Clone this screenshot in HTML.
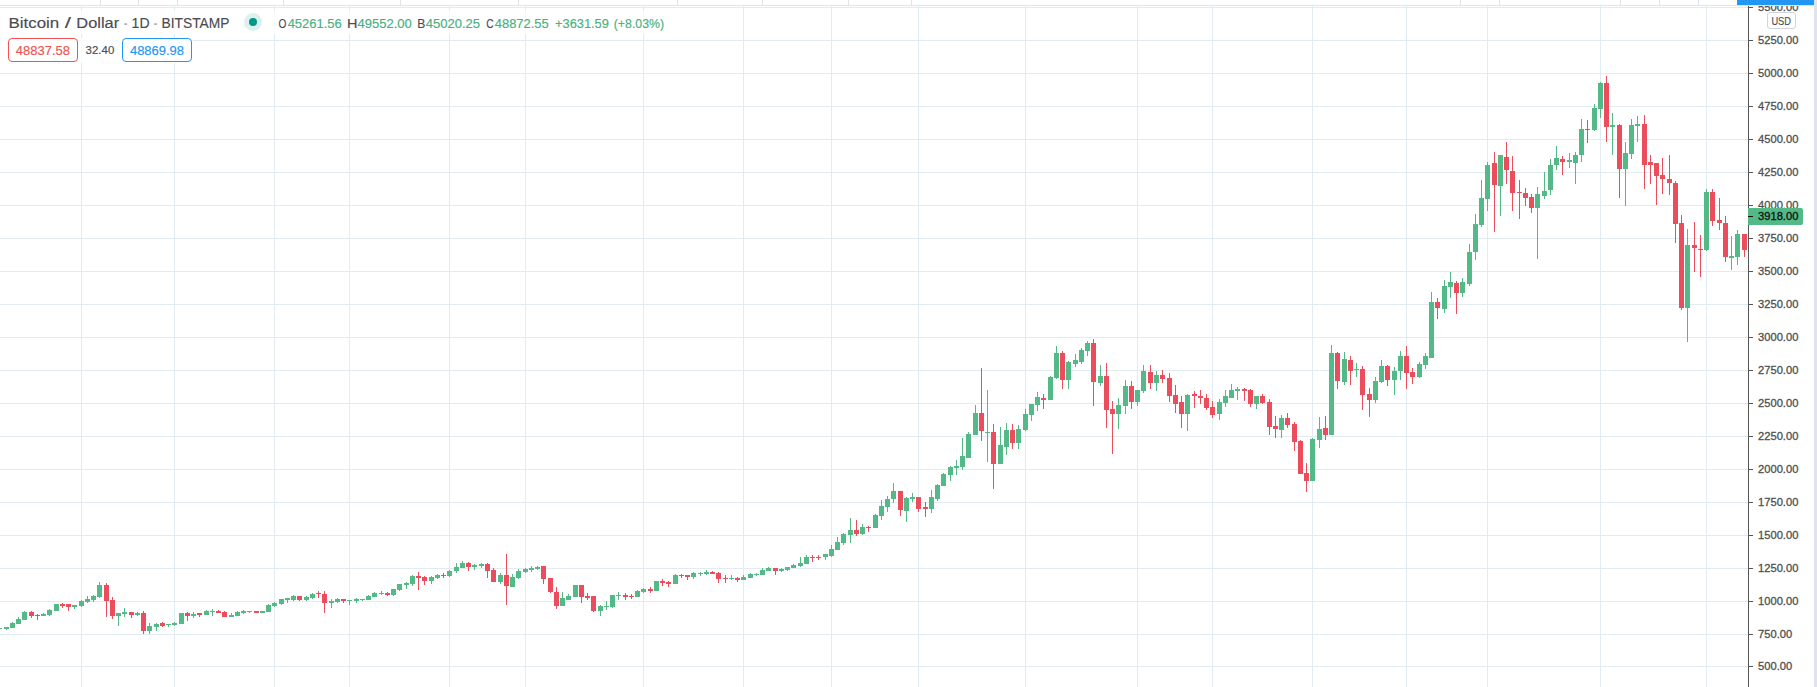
<!DOCTYPE html>
<html><head><meta charset="utf-8"><title>Bitcoin / Dollar</title>
<style>
html,body{margin:0;padding:0;background:#fff;}
body{width:1817px;height:687px;position:relative;overflow:hidden;font-family:"Liberation Sans",sans-serif;}
.t{position:absolute;white-space:pre;line-height:1;transform-origin:0 0;-webkit-text-stroke:0.15px;}
.bg{position:absolute;background:rgba(255,255,255,0.75);}
.box{position:absolute;top:38px;height:22px;border:1px solid;border-radius:4px;background:#fff;}
</style></head><body>
<svg width="1817" height="687" viewBox="0 0 1817 687" shape-rendering="crispEdges" style="position:absolute;left:0;top:0">
<g fill="#e1ecf2">
<rect x="0" y="7" width="1748" height="1"/>
<rect x="0" y="40" width="1748" height="1"/>
<rect x="0" y="73" width="1748" height="1"/>
<rect x="0" y="106" width="1748" height="1"/>
<rect x="0" y="139" width="1748" height="1"/>
<rect x="0" y="172" width="1748" height="1"/>
<rect x="0" y="205" width="1748" height="1"/>
<rect x="0" y="238" width="1748" height="1"/>
<rect x="0" y="271" width="1748" height="1"/>
<rect x="0" y="304" width="1748" height="1"/>
<rect x="0" y="337" width="1748" height="1"/>
<rect x="0" y="370" width="1748" height="1"/>
<rect x="0" y="403" width="1748" height="1"/>
<rect x="0" y="436" width="1748" height="1"/>
<rect x="0" y="469" width="1748" height="1"/>
<rect x="0" y="502" width="1748" height="1"/>
<rect x="0" y="535" width="1748" height="1"/>
<rect x="0" y="568" width="1748" height="1"/>
<rect x="0" y="601" width="1748" height="1"/>
<rect x="0" y="634" width="1748" height="1"/>
<rect x="0" y="666" width="1748" height="1"/>
<rect x="81" y="6" width="1" height="681"/>
<rect x="174" y="6" width="1" height="681"/>
<rect x="274" y="6" width="1" height="681"/>
<rect x="349" y="6" width="1" height="681"/>
<rect x="449" y="6" width="1" height="681"/>
<rect x="525" y="6" width="1" height="681"/>
<rect x="643" y="6" width="1" height="681"/>
<rect x="743" y="6" width="1" height="681"/>
<rect x="831" y="6" width="1" height="681"/>
<rect x="918" y="6" width="1" height="681"/>
<rect x="1025" y="6" width="1" height="681"/>
<rect x="1137" y="6" width="1" height="681"/>
<rect x="1212" y="6" width="1" height="681"/>
<rect x="1312" y="6" width="1" height="681"/>
<rect x="1406" y="6" width="1" height="681"/>
<rect x="1487" y="6" width="1" height="681"/>
<rect x="1600" y="6" width="1" height="681"/>
<rect x="1706" y="6" width="1" height="681"/>
</g>
<g fill="#53b987">
<rect x="-3" y="628" width="5" height="1"/>
<rect x="6" y="627" width="1" height="3"/>
<rect x="4" y="627" width="5" height="2"/>
<rect x="12" y="622" width="1" height="6"/>
<rect x="10" y="623" width="5" height="5"/>
<rect x="18" y="617" width="1" height="7"/>
<rect x="16" y="619" width="5" height="5"/>
<rect x="24" y="611" width="1" height="9"/>
<rect x="22" y="612" width="5" height="8"/>
<rect x="43" y="613" width="1" height="3"/>
<rect x="41" y="614" width="5" height="2"/>
<rect x="49" y="609" width="1" height="7"/>
<rect x="47" y="610" width="5" height="5"/>
<rect x="54" y="604" width="5" height="7"/>
<rect x="74" y="605" width="1" height="4"/>
<rect x="72" y="605" width="5" height="2"/>
<rect x="81" y="600" width="1" height="7"/>
<rect x="79" y="601" width="5" height="5"/>
<rect x="87" y="596" width="1" height="7"/>
<rect x="85" y="599" width="5" height="3"/>
<rect x="93" y="595" width="1" height="7"/>
<rect x="91" y="596" width="5" height="4"/>
<rect x="99" y="582" width="1" height="16"/>
<rect x="97" y="585" width="5" height="12"/>
<rect x="118" y="613" width="1" height="13"/>
<rect x="116" y="613" width="5" height="3"/>
<rect x="124" y="608" width="1" height="9"/>
<rect x="122" y="612" width="5" height="2"/>
<rect x="137" y="612" width="1" height="4"/>
<rect x="135" y="613" width="5" height="2"/>
<rect x="149" y="623" width="1" height="11"/>
<rect x="147" y="626" width="5" height="5"/>
<rect x="156" y="623" width="1" height="8"/>
<rect x="154" y="624" width="5" height="3"/>
<rect x="168" y="624" width="1" height="3"/>
<rect x="166" y="624" width="5" height="1"/>
<rect x="174" y="622" width="1" height="4"/>
<rect x="172" y="623" width="5" height="2"/>
<rect x="179" y="613" width="5" height="11"/>
<rect x="193" y="612" width="1" height="6"/>
<rect x="191" y="614" width="5" height="2"/>
<rect x="206" y="610" width="1" height="5"/>
<rect x="204" y="611" width="5" height="4"/>
<rect x="212" y="609" width="1" height="7"/>
<rect x="210" y="611" width="5" height="1"/>
<rect x="231" y="613" width="1" height="4"/>
<rect x="229" y="615" width="5" height="2"/>
<rect x="237" y="611" width="1" height="5"/>
<rect x="235" y="612" width="5" height="4"/>
<rect x="243" y="610" width="1" height="4"/>
<rect x="241" y="611" width="5" height="2"/>
<rect x="249" y="611" width="1" height="2"/>
<rect x="247" y="611" width="5" height="1"/>
<rect x="260" y="611" width="5" height="2"/>
<rect x="268" y="604" width="1" height="8"/>
<rect x="266" y="605" width="5" height="7"/>
<rect x="274" y="602" width="1" height="5"/>
<rect x="272" y="603" width="5" height="3"/>
<rect x="281" y="599" width="1" height="6"/>
<rect x="279" y="599" width="5" height="5"/>
<rect x="287" y="598" width="1" height="5"/>
<rect x="285" y="598" width="5" height="2"/>
<rect x="293" y="595" width="1" height="6"/>
<rect x="291" y="596" width="5" height="4"/>
<rect x="306" y="596" width="1" height="5"/>
<rect x="304" y="597" width="5" height="3"/>
<rect x="312" y="593" width="1" height="6"/>
<rect x="310" y="594" width="5" height="4"/>
<rect x="331" y="599" width="1" height="9"/>
<rect x="329" y="601" width="5" height="2"/>
<rect x="337" y="598" width="1" height="5"/>
<rect x="335" y="599" width="5" height="3"/>
<rect x="349" y="600" width="1" height="5"/>
<rect x="347" y="600" width="5" height="1"/>
<rect x="356" y="598" width="1" height="5"/>
<rect x="354" y="599" width="5" height="2"/>
<rect x="362" y="599" width="1" height="2"/>
<rect x="360" y="599" width="5" height="1"/>
<rect x="368" y="595" width="1" height="5"/>
<rect x="366" y="596" width="5" height="4"/>
<rect x="374" y="592" width="1" height="5"/>
<rect x="372" y="593" width="5" height="4"/>
<rect x="381" y="591" width="1" height="4"/>
<rect x="379" y="593" width="5" height="1"/>
<rect x="393" y="589" width="1" height="7"/>
<rect x="391" y="589" width="5" height="6"/>
<rect x="399" y="584" width="1" height="7"/>
<rect x="397" y="584" width="5" height="6"/>
<rect x="406" y="582" width="1" height="7"/>
<rect x="404" y="583" width="5" height="2"/>
<rect x="412" y="575" width="1" height="11"/>
<rect x="410" y="576" width="5" height="8"/>
<rect x="431" y="576" width="1" height="8"/>
<rect x="429" y="577" width="5" height="4"/>
<rect x="437" y="574" width="1" height="5"/>
<rect x="435" y="575" width="5" height="3"/>
<rect x="449" y="570" width="1" height="7"/>
<rect x="447" y="571" width="5" height="5"/>
<rect x="456" y="563" width="1" height="10"/>
<rect x="454" y="567" width="5" height="4"/>
<rect x="462" y="561" width="1" height="7"/>
<rect x="460" y="563" width="5" height="5"/>
<rect x="474" y="564" width="1" height="6"/>
<rect x="472" y="565" width="5" height="2"/>
<rect x="481" y="563" width="1" height="5"/>
<rect x="479" y="564" width="5" height="2"/>
<rect x="500" y="573" width="1" height="11"/>
<rect x="498" y="575" width="5" height="7"/>
<rect x="512" y="574" width="1" height="13"/>
<rect x="510" y="577" width="5" height="10"/>
<rect x="518" y="569" width="1" height="10"/>
<rect x="516" y="571" width="5" height="7"/>
<rect x="525" y="568" width="1" height="5"/>
<rect x="523" y="569" width="5" height="3"/>
<rect x="531" y="566" width="1" height="6"/>
<rect x="529" y="568" width="5" height="2"/>
<rect x="537" y="566" width="1" height="4"/>
<rect x="535" y="567" width="5" height="2"/>
<rect x="562" y="592" width="1" height="14"/>
<rect x="560" y="598" width="5" height="8"/>
<rect x="568" y="594" width="1" height="6"/>
<rect x="566" y="596" width="5" height="4"/>
<rect x="573" y="585" width="5" height="12"/>
<rect x="600" y="605" width="1" height="11"/>
<rect x="598" y="606" width="5" height="5"/>
<rect x="606" y="601" width="1" height="9"/>
<rect x="604" y="606" width="5" height="1"/>
<rect x="612" y="595" width="1" height="13"/>
<rect x="610" y="595" width="5" height="12"/>
<rect x="618" y="592" width="1" height="8"/>
<rect x="616" y="595" width="5" height="1"/>
<rect x="637" y="590" width="1" height="7"/>
<rect x="635" y="591" width="5" height="6"/>
<rect x="643" y="588" width="1" height="5"/>
<rect x="641" y="589" width="5" height="3"/>
<rect x="654" y="581" width="5" height="10"/>
<rect x="675" y="574" width="1" height="10"/>
<rect x="673" y="575" width="5" height="9"/>
<rect x="693" y="572" width="1" height="7"/>
<rect x="691" y="573" width="5" height="4"/>
<rect x="700" y="572" width="1" height="4"/>
<rect x="698" y="573" width="5" height="1"/>
<rect x="706" y="570" width="1" height="5"/>
<rect x="704" y="572" width="5" height="2"/>
<rect x="731" y="575" width="1" height="5"/>
<rect x="729" y="578" width="5" height="1"/>
<rect x="743" y="575" width="1" height="5"/>
<rect x="741" y="577" width="5" height="3"/>
<rect x="750" y="573" width="1" height="5"/>
<rect x="748" y="574" width="5" height="4"/>
<rect x="756" y="573" width="1" height="3"/>
<rect x="754" y="574" width="5" height="1"/>
<rect x="762" y="568" width="1" height="7"/>
<rect x="760" y="570" width="5" height="5"/>
<rect x="768" y="567" width="1" height="4"/>
<rect x="766" y="568" width="5" height="3"/>
<rect x="781" y="568" width="1" height="4"/>
<rect x="779" y="569" width="5" height="2"/>
<rect x="787" y="567" width="1" height="4"/>
<rect x="785" y="567" width="5" height="3"/>
<rect x="793" y="564" width="1" height="4"/>
<rect x="791" y="565" width="5" height="3"/>
<rect x="800" y="557" width="1" height="10"/>
<rect x="798" y="563" width="5" height="3"/>
<rect x="806" y="555" width="1" height="9"/>
<rect x="804" y="557" width="5" height="7"/>
<rect x="825" y="554" width="1" height="6"/>
<rect x="823" y="554" width="5" height="3"/>
<rect x="831" y="545" width="1" height="12"/>
<rect x="829" y="549" width="5" height="7"/>
<rect x="837" y="537" width="1" height="13"/>
<rect x="835" y="542" width="5" height="8"/>
<rect x="843" y="533" width="1" height="12"/>
<rect x="841" y="534" width="5" height="9"/>
<rect x="850" y="518" width="1" height="25"/>
<rect x="848" y="530" width="5" height="5"/>
<rect x="862" y="524" width="1" height="11"/>
<rect x="860" y="527" width="5" height="7"/>
<rect x="875" y="514" width="1" height="14"/>
<rect x="873" y="515" width="5" height="13"/>
<rect x="881" y="500" width="1" height="20"/>
<rect x="879" y="506" width="5" height="10"/>
<rect x="887" y="496" width="1" height="16"/>
<rect x="885" y="499" width="5" height="8"/>
<rect x="893" y="483" width="1" height="20"/>
<rect x="891" y="491" width="5" height="8"/>
<rect x="906" y="497" width="1" height="25"/>
<rect x="904" y="498" width="5" height="13"/>
<rect x="912" y="493" width="1" height="9"/>
<rect x="910" y="497" width="5" height="2"/>
<rect x="931" y="490" width="1" height="23"/>
<rect x="929" y="497" width="5" height="12"/>
<rect x="937" y="484" width="1" height="17"/>
<rect x="935" y="485" width="5" height="14"/>
<rect x="943" y="473" width="1" height="13"/>
<rect x="941" y="474" width="5" height="12"/>
<rect x="950" y="466" width="1" height="15"/>
<rect x="948" y="467" width="5" height="8"/>
<rect x="956" y="460" width="1" height="15"/>
<rect x="954" y="466" width="5" height="2"/>
<rect x="962" y="438" width="1" height="32"/>
<rect x="960" y="456" width="5" height="11"/>
<rect x="968" y="432" width="1" height="26"/>
<rect x="966" y="434" width="5" height="24"/>
<rect x="975" y="405" width="1" height="30"/>
<rect x="973" y="413" width="5" height="22"/>
<rect x="987" y="390" width="1" height="72"/>
<rect x="985" y="432" width="5" height="1"/>
<rect x="1000" y="427" width="1" height="37"/>
<rect x="998" y="445" width="5" height="19"/>
<rect x="1006" y="423" width="1" height="32"/>
<rect x="1004" y="430" width="5" height="17"/>
<rect x="1018" y="425" width="1" height="24"/>
<rect x="1016" y="429" width="5" height="14"/>
<rect x="1025" y="409" width="1" height="22"/>
<rect x="1023" y="414" width="5" height="16"/>
<rect x="1031" y="404" width="1" height="17"/>
<rect x="1029" y="404" width="5" height="11"/>
<rect x="1037" y="392" width="1" height="19"/>
<rect x="1035" y="397" width="5" height="8"/>
<rect x="1050" y="376" width="1" height="24"/>
<rect x="1048" y="377" width="5" height="23"/>
<rect x="1056" y="346" width="1" height="33"/>
<rect x="1054" y="353" width="5" height="25"/>
<rect x="1068" y="361" width="1" height="28"/>
<rect x="1066" y="362" width="5" height="18"/>
<rect x="1075" y="354" width="1" height="13"/>
<rect x="1073" y="360" width="5" height="4"/>
<rect x="1081" y="348" width="1" height="16"/>
<rect x="1079" y="350" width="5" height="12"/>
<rect x="1087" y="341" width="1" height="15"/>
<rect x="1085" y="343" width="5" height="8"/>
<rect x="1100" y="365" width="1" height="21"/>
<rect x="1098" y="376" width="5" height="7"/>
<rect x="1118" y="398" width="1" height="31"/>
<rect x="1116" y="405" width="5" height="9"/>
<rect x="1125" y="380" width="1" height="34"/>
<rect x="1123" y="386" width="5" height="20"/>
<rect x="1137" y="390" width="1" height="16"/>
<rect x="1135" y="390" width="5" height="12"/>
<rect x="1143" y="365" width="1" height="28"/>
<rect x="1141" y="371" width="5" height="20"/>
<rect x="1156" y="371" width="1" height="20"/>
<rect x="1154" y="375" width="5" height="8"/>
<rect x="1187" y="394" width="1" height="37"/>
<rect x="1185" y="395" width="5" height="19"/>
<rect x="1219" y="399" width="1" height="21"/>
<rect x="1217" y="402" width="5" height="12"/>
<rect x="1225" y="390" width="1" height="17"/>
<rect x="1223" y="396" width="5" height="7"/>
<rect x="1231" y="384" width="1" height="14"/>
<rect x="1229" y="390" width="5" height="8"/>
<rect x="1237" y="387" width="1" height="13"/>
<rect x="1235" y="389" width="5" height="2"/>
<rect x="1256" y="396" width="1" height="13"/>
<rect x="1254" y="396" width="5" height="8"/>
<rect x="1281" y="415" width="1" height="23"/>
<rect x="1279" y="418" width="5" height="12"/>
<rect x="1312" y="438" width="1" height="43"/>
<rect x="1310" y="439" width="5" height="42"/>
<rect x="1319" y="417" width="1" height="31"/>
<rect x="1317" y="429" width="5" height="11"/>
<rect x="1331" y="345" width="1" height="90"/>
<rect x="1329" y="353" width="5" height="82"/>
<rect x="1344" y="352" width="1" height="33"/>
<rect x="1342" y="359" width="5" height="23"/>
<rect x="1356" y="363" width="1" height="14"/>
<rect x="1354" y="369" width="5" height="1"/>
<rect x="1375" y="377" width="1" height="26"/>
<rect x="1373" y="381" width="5" height="19"/>
<rect x="1381" y="360" width="1" height="23"/>
<rect x="1379" y="366" width="5" height="16"/>
<rect x="1394" y="367" width="1" height="28"/>
<rect x="1392" y="371" width="5" height="9"/>
<rect x="1400" y="351" width="1" height="29"/>
<rect x="1398" y="356" width="5" height="15"/>
<rect x="1419" y="362" width="1" height="16"/>
<rect x="1417" y="364" width="5" height="13"/>
<rect x="1425" y="353" width="1" height="16"/>
<rect x="1423" y="356" width="5" height="9"/>
<rect x="1431" y="292" width="1" height="66"/>
<rect x="1429" y="302" width="5" height="56"/>
<rect x="1444" y="280" width="1" height="33"/>
<rect x="1442" y="286" width="5" height="23"/>
<rect x="1450" y="272" width="1" height="26"/>
<rect x="1448" y="282" width="5" height="5"/>
<rect x="1462" y="278" width="1" height="19"/>
<rect x="1460" y="282" width="5" height="11"/>
<rect x="1469" y="244" width="1" height="42"/>
<rect x="1467" y="252" width="5" height="32"/>
<rect x="1475" y="214" width="1" height="46"/>
<rect x="1473" y="224" width="5" height="28"/>
<rect x="1481" y="180" width="1" height="47"/>
<rect x="1479" y="198" width="5" height="27"/>
<rect x="1487" y="162" width="1" height="49"/>
<rect x="1485" y="165" width="5" height="34"/>
<rect x="1500" y="155" width="1" height="61"/>
<rect x="1498" y="155" width="5" height="31"/>
<rect x="1537" y="187" width="1" height="72"/>
<rect x="1535" y="194" width="5" height="14"/>
<rect x="1544" y="172" width="1" height="27"/>
<rect x="1542" y="191" width="5" height="5"/>
<rect x="1550" y="159" width="1" height="36"/>
<rect x="1548" y="165" width="5" height="25"/>
<rect x="1556" y="146" width="1" height="24"/>
<rect x="1554" y="158" width="5" height="7"/>
<rect x="1569" y="153" width="1" height="15"/>
<rect x="1567" y="160" width="5" height="2"/>
<rect x="1575" y="152" width="1" height="32"/>
<rect x="1573" y="155" width="5" height="8"/>
<rect x="1581" y="119" width="1" height="43"/>
<rect x="1579" y="129" width="5" height="26"/>
<rect x="1594" y="104" width="1" height="27"/>
<rect x="1592" y="108" width="5" height="22"/>
<rect x="1600" y="82" width="1" height="36"/>
<rect x="1598" y="83" width="5" height="26"/>
<rect x="1612" y="113" width="1" height="42"/>
<rect x="1610" y="125" width="5" height="2"/>
<rect x="1625" y="142" width="1" height="64"/>
<rect x="1623" y="153" width="5" height="16"/>
<rect x="1631" y="119" width="1" height="40"/>
<rect x="1629" y="125" width="5" height="29"/>
<rect x="1637" y="116" width="1" height="26"/>
<rect x="1635" y="124" width="5" height="2"/>
<rect x="1687" y="229" width="1" height="113"/>
<rect x="1685" y="245" width="5" height="63"/>
<rect x="1706" y="189" width="1" height="62"/>
<rect x="1704" y="192" width="5" height="58"/>
<rect x="1731" y="236" width="1" height="34"/>
<rect x="1729" y="256" width="5" height="2"/>
<rect x="1737" y="230" width="1" height="35"/>
<rect x="1735" y="234" width="5" height="23"/>
</g>
<g fill="#eb4d5c">
<rect x="31" y="611" width="1" height="7"/>
<rect x="29" y="612" width="5" height="4"/>
<rect x="37" y="614" width="1" height="6"/>
<rect x="35" y="615" width="5" height="1"/>
<rect x="62" y="603" width="1" height="5"/>
<rect x="60" y="604" width="5" height="2"/>
<rect x="68" y="604" width="1" height="7"/>
<rect x="66" y="604" width="5" height="3"/>
<rect x="106" y="583" width="1" height="34"/>
<rect x="104" y="585" width="5" height="16"/>
<rect x="112" y="597" width="1" height="22"/>
<rect x="110" y="600" width="5" height="16"/>
<rect x="131" y="612" width="1" height="6"/>
<rect x="129" y="612" width="5" height="3"/>
<rect x="143" y="611" width="1" height="23"/>
<rect x="141" y="613" width="5" height="18"/>
<rect x="162" y="622" width="1" height="5"/>
<rect x="160" y="623" width="5" height="3"/>
<rect x="187" y="612" width="1" height="9"/>
<rect x="185" y="613" width="5" height="3"/>
<rect x="199" y="613" width="1" height="4"/>
<rect x="197" y="613" width="5" height="2"/>
<rect x="218" y="610" width="1" height="3"/>
<rect x="216" y="611" width="5" height="2"/>
<rect x="224" y="611" width="1" height="6"/>
<rect x="222" y="612" width="5" height="5"/>
<rect x="254" y="611" width="5" height="2"/>
<rect x="299" y="596" width="1" height="5"/>
<rect x="297" y="596" width="5" height="4"/>
<rect x="318" y="591" width="1" height="7"/>
<rect x="316" y="593" width="5" height="1"/>
<rect x="324" y="591" width="1" height="22"/>
<rect x="322" y="594" width="5" height="9"/>
<rect x="343" y="599" width="1" height="4"/>
<rect x="341" y="599" width="5" height="2"/>
<rect x="387" y="592" width="1" height="4"/>
<rect x="385" y="593" width="5" height="2"/>
<rect x="418" y="572" width="1" height="18"/>
<rect x="416" y="576" width="5" height="2"/>
<rect x="424" y="576" width="1" height="9"/>
<rect x="422" y="577" width="5" height="4"/>
<rect x="443" y="573" width="1" height="5"/>
<rect x="441" y="575" width="5" height="1"/>
<rect x="468" y="562" width="1" height="9"/>
<rect x="466" y="563" width="5" height="4"/>
<rect x="487" y="563" width="1" height="15"/>
<rect x="485" y="564" width="5" height="7"/>
<rect x="493" y="568" width="1" height="14"/>
<rect x="491" y="570" width="5" height="12"/>
<rect x="506" y="554" width="1" height="51"/>
<rect x="504" y="575" width="5" height="11"/>
<rect x="543" y="566" width="1" height="18"/>
<rect x="541" y="566" width="5" height="13"/>
<rect x="550" y="578" width="1" height="15"/>
<rect x="548" y="578" width="5" height="14"/>
<rect x="556" y="587" width="1" height="22"/>
<rect x="554" y="592" width="5" height="14"/>
<rect x="581" y="585" width="1" height="18"/>
<rect x="579" y="585" width="5" height="12"/>
<rect x="587" y="593" width="1" height="7"/>
<rect x="585" y="596" width="5" height="2"/>
<rect x="593" y="596" width="1" height="16"/>
<rect x="591" y="596" width="5" height="15"/>
<rect x="625" y="593" width="1" height="7"/>
<rect x="623" y="595" width="5" height="2"/>
<rect x="631" y="594" width="1" height="5"/>
<rect x="629" y="596" width="5" height="1"/>
<rect x="650" y="587" width="1" height="6"/>
<rect x="648" y="589" width="5" height="2"/>
<rect x="662" y="579" width="1" height="7"/>
<rect x="660" y="581" width="5" height="2"/>
<rect x="668" y="581" width="1" height="6"/>
<rect x="666" y="582" width="5" height="2"/>
<rect x="681" y="574" width="1" height="4"/>
<rect x="679" y="575" width="5" height="1"/>
<rect x="687" y="575" width="1" height="5"/>
<rect x="685" y="575" width="5" height="2"/>
<rect x="712" y="571" width="1" height="3"/>
<rect x="710" y="572" width="5" height="2"/>
<rect x="718" y="572" width="1" height="11"/>
<rect x="716" y="573" width="5" height="6"/>
<rect x="725" y="575" width="1" height="8"/>
<rect x="723" y="578" width="5" height="1"/>
<rect x="737" y="577" width="1" height="5"/>
<rect x="735" y="578" width="5" height="2"/>
<rect x="775" y="568" width="1" height="7"/>
<rect x="773" y="568" width="5" height="3"/>
<rect x="812" y="555" width="1" height="7"/>
<rect x="810" y="557" width="5" height="1"/>
<rect x="818" y="555" width="1" height="5"/>
<rect x="816" y="557" width="5" height="1"/>
<rect x="856" y="520" width="1" height="16"/>
<rect x="854" y="530" width="5" height="4"/>
<rect x="868" y="526" width="1" height="6"/>
<rect x="866" y="527" width="5" height="1"/>
<rect x="900" y="491" width="1" height="25"/>
<rect x="898" y="491" width="5" height="19"/>
<rect x="918" y="497" width="1" height="15"/>
<rect x="916" y="497" width="5" height="12"/>
<rect x="925" y="502" width="1" height="15"/>
<rect x="923" y="507" width="5" height="2"/>
<rect x="981" y="368" width="1" height="73"/>
<rect x="979" y="413" width="5" height="18"/>
<rect x="993" y="424" width="1" height="65"/>
<rect x="991" y="432" width="5" height="32"/>
<rect x="1012" y="424" width="1" height="25"/>
<rect x="1010" y="430" width="5" height="13"/>
<rect x="1043" y="394" width="1" height="15"/>
<rect x="1041" y="398" width="5" height="2"/>
<rect x="1062" y="351" width="1" height="38"/>
<rect x="1060" y="353" width="5" height="27"/>
<rect x="1093" y="339" width="1" height="67"/>
<rect x="1091" y="343" width="5" height="39"/>
<rect x="1106" y="363" width="1" height="65"/>
<rect x="1104" y="376" width="5" height="34"/>
<rect x="1112" y="401" width="1" height="53"/>
<rect x="1110" y="409" width="5" height="5"/>
<rect x="1131" y="381" width="1" height="28"/>
<rect x="1129" y="386" width="5" height="16"/>
<rect x="1150" y="365" width="1" height="24"/>
<rect x="1148" y="372" width="5" height="11"/>
<rect x="1162" y="370" width="1" height="13"/>
<rect x="1160" y="375" width="5" height="4"/>
<rect x="1169" y="373" width="1" height="29"/>
<rect x="1167" y="378" width="5" height="18"/>
<rect x="1175" y="385" width="1" height="28"/>
<rect x="1173" y="395" width="5" height="9"/>
<rect x="1181" y="396" width="1" height="32"/>
<rect x="1179" y="402" width="5" height="12"/>
<rect x="1194" y="391" width="1" height="17"/>
<rect x="1192" y="394" width="5" height="2"/>
<rect x="1200" y="390" width="1" height="14"/>
<rect x="1198" y="396" width="5" height="2"/>
<rect x="1206" y="394" width="1" height="16"/>
<rect x="1204" y="398" width="5" height="10"/>
<rect x="1212" y="401" width="1" height="17"/>
<rect x="1210" y="407" width="5" height="8"/>
<rect x="1244" y="388" width="1" height="13"/>
<rect x="1242" y="389" width="5" height="2"/>
<rect x="1250" y="389" width="1" height="18"/>
<rect x="1248" y="390" width="5" height="14"/>
<rect x="1262" y="394" width="1" height="10"/>
<rect x="1260" y="396" width="5" height="7"/>
<rect x="1269" y="399" width="1" height="36"/>
<rect x="1267" y="402" width="5" height="25"/>
<rect x="1275" y="416" width="1" height="22"/>
<rect x="1273" y="426" width="5" height="3"/>
<rect x="1287" y="413" width="1" height="15"/>
<rect x="1285" y="418" width="5" height="7"/>
<rect x="1294" y="422" width="1" height="29"/>
<rect x="1292" y="424" width="5" height="18"/>
<rect x="1300" y="440" width="1" height="34"/>
<rect x="1298" y="441" width="5" height="33"/>
<rect x="1306" y="463" width="1" height="29"/>
<rect x="1304" y="473" width="5" height="8"/>
<rect x="1325" y="416" width="1" height="24"/>
<rect x="1323" y="428" width="5" height="7"/>
<rect x="1337" y="352" width="1" height="37"/>
<rect x="1335" y="353" width="5" height="28"/>
<rect x="1350" y="356" width="1" height="29"/>
<rect x="1348" y="360" width="5" height="11"/>
<rect x="1362" y="366" width="1" height="44"/>
<rect x="1360" y="369" width="5" height="26"/>
<rect x="1369" y="388" width="1" height="29"/>
<rect x="1367" y="394" width="5" height="6"/>
<rect x="1387" y="365" width="1" height="21"/>
<rect x="1385" y="366" width="5" height="14"/>
<rect x="1406" y="346" width="1" height="43"/>
<rect x="1404" y="356" width="5" height="17"/>
<rect x="1412" y="368" width="1" height="16"/>
<rect x="1410" y="372" width="5" height="5"/>
<rect x="1437" y="298" width="1" height="21"/>
<rect x="1435" y="302" width="5" height="6"/>
<rect x="1456" y="281" width="1" height="33"/>
<rect x="1454" y="283" width="5" height="10"/>
<rect x="1494" y="152" width="1" height="80"/>
<rect x="1492" y="163" width="5" height="22"/>
<rect x="1506" y="142" width="1" height="42"/>
<rect x="1504" y="157" width="5" height="13"/>
<rect x="1512" y="156" width="1" height="55"/>
<rect x="1510" y="171" width="5" height="22"/>
<rect x="1519" y="180" width="1" height="39"/>
<rect x="1517" y="192" width="5" height="1"/>
<rect x="1525" y="188" width="1" height="18"/>
<rect x="1523" y="193" width="5" height="5"/>
<rect x="1531" y="194" width="1" height="19"/>
<rect x="1529" y="197" width="5" height="11"/>
<rect x="1562" y="156" width="1" height="19"/>
<rect x="1560" y="159" width="5" height="3"/>
<rect x="1587" y="120" width="1" height="23"/>
<rect x="1585" y="129" width="5" height="1"/>
<rect x="1606" y="76" width="1" height="66"/>
<rect x="1604" y="83" width="5" height="44"/>
<rect x="1619" y="124" width="1" height="74"/>
<rect x="1617" y="125" width="5" height="44"/>
<rect x="1644" y="115" width="1" height="74"/>
<rect x="1642" y="124" width="5" height="41"/>
<rect x="1650" y="155" width="1" height="29"/>
<rect x="1648" y="162" width="5" height="3"/>
<rect x="1656" y="163" width="1" height="42"/>
<rect x="1654" y="163" width="5" height="13"/>
<rect x="1662" y="158" width="1" height="36"/>
<rect x="1660" y="175" width="5" height="4"/>
<rect x="1669" y="155" width="1" height="40"/>
<rect x="1667" y="179" width="5" height="4"/>
<rect x="1675" y="181" width="1" height="62"/>
<rect x="1673" y="183" width="5" height="41"/>
<rect x="1681" y="215" width="1" height="95"/>
<rect x="1679" y="223" width="5" height="85"/>
<rect x="1694" y="222" width="1" height="50"/>
<rect x="1692" y="245" width="5" height="3"/>
<rect x="1700" y="235" width="1" height="42"/>
<rect x="1698" y="249" width="5" height="1"/>
<rect x="1712" y="189" width="1" height="37"/>
<rect x="1710" y="192" width="5" height="29"/>
<rect x="1719" y="198" width="1" height="32"/>
<rect x="1717" y="220" width="5" height="3"/>
<rect x="1725" y="216" width="1" height="46"/>
<rect x="1723" y="223" width="5" height="34"/>
<rect x="1744" y="234" width="1" height="23"/>
<rect x="1742" y="234" width="5" height="16"/>
</g>
<g fill="#555">
<rect x="1748" y="6" width="1" height="681"/>
<rect x="1749" y="7" width="4" height="1"/>
<rect x="1749" y="40" width="4" height="1"/>
<rect x="1749" y="73" width="4" height="1"/>
<rect x="1749" y="106" width="4" height="1"/>
<rect x="1749" y="139" width="4" height="1"/>
<rect x="1749" y="172" width="4" height="1"/>
<rect x="1749" y="205" width="4" height="1"/>
<rect x="1749" y="238" width="4" height="1"/>
<rect x="1749" y="271" width="4" height="1"/>
<rect x="1749" y="304" width="4" height="1"/>
<rect x="1749" y="337" width="4" height="1"/>
<rect x="1749" y="370" width="4" height="1"/>
<rect x="1749" y="403" width="4" height="1"/>
<rect x="1749" y="436" width="4" height="1"/>
<rect x="1749" y="469" width="4" height="1"/>
<rect x="1749" y="502" width="4" height="1"/>
<rect x="1749" y="535" width="4" height="1"/>
<rect x="1749" y="568" width="4" height="1"/>
<rect x="1749" y="601" width="4" height="1"/>
<rect x="1749" y="634" width="4" height="1"/>
<rect x="1749" y="666" width="4" height="1"/>
</g>
<rect x="1814" y="0" width="3" height="687" fill="#e0e3eb"/>
</svg>
<div class="bg" style="left:0;top:11px;width:672px;height:23px"></div>
<div class="bg" style="left:0;top:38px;width:193px;height:25px"></div>
<div style="position:absolute;left:244px;top:13px;width:18px;height:18px;border-radius:50%;background:#dcf0ed"></div>
<div style="position:absolute;left:249px;top:18px;width:8px;height:8px;border-radius:50%;background:#009688"></div>
<div class="box" style="left:8px;width:68px;border-color:#f05350"></div>
<div class="box" style="left:122px;width:68px;border-color:#2196f3"></div>
<div style="position:absolute;left:1767px;top:12px;width:27px;height:15px;border:1px solid #d1d4dc;border-radius:3px;background:#fff"></div>
<div style="position:absolute;left:1748px;top:208px;width:55px;height:17px;background:#53b987;border-radius:0 2px 2px 0;z-index:2"></div>
<div style="position:absolute;left:1748px;top:216px;width:5px;height:1px;background:#111;z-index:3"></div>
<div class="t" style="left:8px;top:15px;font-size:15.3px;color:#4b4b52;font-weight:normal;transform:translateX(0.42px) scaleX(1.1063);">Bitcoin</div>
<div class="t" style="left:64px;top:15px;font-size:15.3px;color:#4b4b52;font-weight:normal;transform:translateX(0.80px) scaleX(1.4588);">/</div>
<div class="t" style="left:76px;top:15px;font-size:15.3px;color:#4b4b52;font-weight:normal;transform:translateX(0.36px) scaleX(1.0701);">Dollar</div>
<div class="t" style="left:121px;top:15px;font-size:15.3px;color:#a9acb6;font-weight:normal;transform:translateX(0.40px) scaleX(1.6000);">·</div>
<div class="t" style="left:131px;top:15px;font-size:15.3px;color:#4b4b52;font-weight:normal;transform:translateX(0.58px) scaleX(0.9167);">1D</div>
<div class="t" style="left:151px;top:15px;font-size:15.3px;color:#a9acb6;font-weight:normal;transform:translateX(0.18px) scaleX(1.6667);">·</div>
<div class="t" style="left:161px;top:15px;font-size:15.3px;color:#4b4b52;font-weight:normal;transform:translateX(0.57px) scaleX(0.9010);">BITSTAMP</div>
<div class="t" style="left:278px;top:18px;font-size:12.2px;color:#4b4b52;font-weight:normal;transform:translateX(0.38px) scaleX(0.8353);">O</div>
<div class="t" style="left:287px;top:18px;font-size:12.2px;color:#47b17f;font-weight:normal;transform:translateX(0.63px) scaleX(1.0647);">45261.56</div>
<div class="t" style="left:347px;top:18px;font-size:12.2px;color:#4b4b52;font-weight:normal;transform:translateX(0.11px) scaleX(1.1857);">H</div>
<div class="t" style="left:357px;top:18px;font-size:12.2px;color:#47b17f;font-weight:normal;transform:translateX(0.53px) scaleX(1.0687);">49552.00</div>
<div class="t" style="left:417px;top:18px;font-size:12.2px;color:#4b4b52;font-weight:normal;transform:translateX(0.22px) scaleX(0.9846);">B</div>
<div class="t" style="left:425px;top:18px;font-size:12.2px;color:#47b17f;font-weight:normal;transform:translateX(0.73px) scaleX(1.0687);">45020.25</div>
<div class="t" style="left:486px;top:18px;font-size:12.2px;color:#4b4b52;font-weight:normal;transform:translateX(0.28px) scaleX(0.8387);">C</div>
<div class="t" style="left:494px;top:18px;font-size:12.2px;color:#47b17f;font-weight:normal;transform:translateX(0.73px) scaleX(1.0627);">48872.55</div>
<div class="t" style="left:555px;top:18px;font-size:12.2px;color:#47b17f;font-weight:normal;transform:translateX(0.07px) scaleX(1.0507);">+3631.59</div>
<div class="t" style="left:613px;top:18px;font-size:12.2px;color:#47b17f;font-weight:normal;transform:translateX(0.74px) scaleX(1.0103);">(+8.03%)</div>
<div class="t" style="left:15px;top:45px;font-size:12.2px;color:#f05350;font-weight:normal;transform:translateX(0.73px) scaleX(1.0687);">48837.58</div>
<div class="t" style="left:85px;top:45px;font-size:11.2px;color:#4b4b52;font-weight:normal;transform:translateX(0.59px) scaleX(1.0239);">32.40</div>
<div class="t" style="left:129px;top:45px;font-size:12.2px;color:#2196f3;font-weight:normal;transform:translateX(0.93px) scaleX(1.0627);">48869.98</div>
<div class="t" style="left:1771px;top:16px;font-size:11.2px;color:#4b4b52;font-weight:normal;transform:translateX(0.38px) scaleX(0.8267);">USD</div>
<div class="t" style="left:1758px;top:2px;font-size:11px;color:#505050;-webkit-text-stroke:0.3px;transform:scaleX(1.015)">5500.00</div>
<div class="t" style="left:1758px;top:35px;font-size:11px;color:#505050;-webkit-text-stroke:0.3px;transform:scaleX(1.015)">5250.00</div>
<div class="t" style="left:1758px;top:68px;font-size:11px;color:#505050;-webkit-text-stroke:0.3px;transform:scaleX(1.015)">5000.00</div>
<div class="t" style="left:1758px;top:101px;font-size:11px;color:#505050;-webkit-text-stroke:0.3px;transform:scaleX(1.015)">4750.00</div>
<div class="t" style="left:1758px;top:134px;font-size:11px;color:#505050;-webkit-text-stroke:0.3px;transform:scaleX(1.015)">4500.00</div>
<div class="t" style="left:1758px;top:167px;font-size:11px;color:#505050;-webkit-text-stroke:0.3px;transform:scaleX(1.015)">4250.00</div>
<div class="t" style="left:1758px;top:200px;font-size:11px;color:#505050;-webkit-text-stroke:0.3px;transform:scaleX(1.015)">4000.00</div>
<div class="t" style="left:1758px;top:233px;font-size:11px;color:#505050;-webkit-text-stroke:0.3px;transform:scaleX(1.015)">3750.00</div>
<div class="t" style="left:1758px;top:266px;font-size:11px;color:#505050;-webkit-text-stroke:0.3px;transform:scaleX(1.015)">3500.00</div>
<div class="t" style="left:1758px;top:299px;font-size:11px;color:#505050;-webkit-text-stroke:0.3px;transform:scaleX(1.015)">3250.00</div>
<div class="t" style="left:1758px;top:332px;font-size:11px;color:#505050;-webkit-text-stroke:0.3px;transform:scaleX(1.015)">3000.00</div>
<div class="t" style="left:1758px;top:365px;font-size:11px;color:#505050;-webkit-text-stroke:0.3px;transform:scaleX(1.015)">2750.00</div>
<div class="t" style="left:1758px;top:398px;font-size:11px;color:#505050;-webkit-text-stroke:0.3px;transform:scaleX(1.015)">2500.00</div>
<div class="t" style="left:1758px;top:431px;font-size:11px;color:#505050;-webkit-text-stroke:0.3px;transform:scaleX(1.015)">2250.00</div>
<div class="t" style="left:1758px;top:464px;font-size:11px;color:#505050;-webkit-text-stroke:0.3px;transform:scaleX(1.015)">2000.00</div>
<div class="t" style="left:1758px;top:497px;font-size:11px;color:#505050;-webkit-text-stroke:0.3px;transform:scaleX(1.015)">1750.00</div>
<div class="t" style="left:1758px;top:530px;font-size:11px;color:#505050;-webkit-text-stroke:0.3px;transform:scaleX(1.015)">1500.00</div>
<div class="t" style="left:1758px;top:563px;font-size:11px;color:#505050;-webkit-text-stroke:0.3px;transform:scaleX(1.015)">1250.00</div>
<div class="t" style="left:1758px;top:596px;font-size:11px;color:#505050;-webkit-text-stroke:0.3px;transform:scaleX(1.015)">1000.00</div>
<div class="t" style="left:1758px;top:629px;font-size:11px;color:#505050;-webkit-text-stroke:0.3px;transform:scaleX(1.015)">750.00</div>
<div class="t" style="left:1758px;top:661px;font-size:11px;color:#505050;-webkit-text-stroke:0.3px;transform:scaleX(1.015)">500.00</div>
<div class="t" style="left:1758px;top:211px;font-size:11px;color:#111;-webkit-text-stroke:0.3px;z-index:3;transform:scaleX(1.015)">3918.00</div>
<svg width="1817" height="6" viewBox="0 0 1817 6" shape-rendering="crispEdges" style="position:absolute;left:0;top:0;z-index:5">
<rect x="0" y="0" width="1814" height="6" fill="#fff"/>
<g fill="#e0e3eb">
<rect x="100" y="0" width="1" height="5"/>
<rect x="138" y="0" width="1" height="5"/>
<rect x="177" y="0" width="1" height="5"/>
<rect x="283" y="0" width="1" height="5"/>
<rect x="400" y="0" width="1" height="5"/>
<rect x="518" y="0" width="1" height="5"/>
<rect x="677" y="0" width="1" height="5"/>
<rect x="762" y="0" width="1" height="5"/>
<rect x="848" y="0" width="1" height="5"/>
<rect x="911" y="0" width="1" height="5"/>
<rect x="1460" y="0" width="1" height="5"/>
<rect x="1499" y="0" width="1" height="5"/>
<rect x="1620" y="0" width="1" height="5"/>
<rect x="1659" y="0" width="1" height="5"/>
<rect x="1698" y="0" width="1" height="5"/>
<rect x="0" y="5" width="1814" height="1"/>
</g>
<rect x="1737" y="0" width="77" height="5" fill="#2196f3"/>
<rect x="1814" y="0" width="3" height="6" fill="#e0e3eb"/>
</svg>
</body></html>
